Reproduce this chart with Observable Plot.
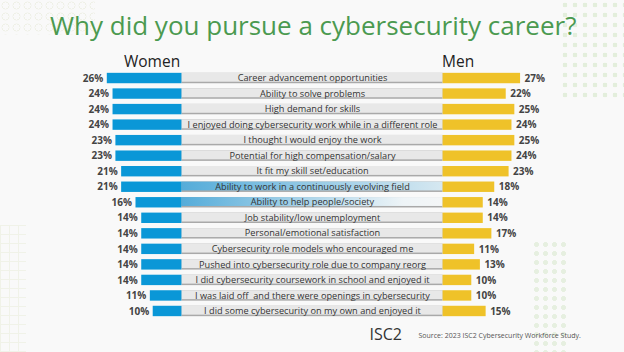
<!DOCTYPE html>
<html><head><meta charset="utf-8">
<script src="https://cdn.jsdelivr.net/npm/d3@7"></script>
<script src="https://cdn.jsdelivr.net/npm/@observablehq/plot@0.6"></script>
<style>
html,body{margin:0;padding:0;background:#f9f9f9;}
#wrap{width:624px;height:352px;position:relative;overflow:hidden;font-family:"Open Sans",sans-serif;}
.deco{position:absolute;pointer-events:none;}
#dotsTR{left:560px;top:0;width:64px;height:100px;background-image:radial-gradient(circle,#e3eedc 2.2px,transparent 2.6px);background-size:10px 10px;}
#dotsBR{left:532px;top:240px;width:36px;height:112px;background-image:radial-gradient(circle,#e6efe0 2.2px,transparent 2.6px);background-size:9px 9px;}
#circTL{left:0;top:0;width:95px;height:35px;background-image:radial-gradient(circle,transparent 3px,#eef0e6 3.2px,#eef0e6 3.8px,transparent 4.2px);background-size:11px 11px;}
#sqBL{left:0;top:225px;width:26px;height:127px;background-image:linear-gradient(#f0f2e8 1px,transparent 1px),linear-gradient(90deg,#f0f2e8 1px,transparent 1px);background-size:9px 9px;}
#title{position:relative;height:50px;line-height:50px;margin:0;padding-left:50px;font-size:26px;font-weight:400;color:#4b9a50;white-space:nowrap;}
#chart{position:relative;}
#chart svg{display:block;background:transparent;}
</style></head><body>
<div id="wrap">
<div class="deco" id="dotsTR"></div><div class="deco" id="dotsBR"></div><div class="deco" id="circTL"></div><div class="deco" id="sqBL"></div>
<div id="title">Why did you pursue a cybersecurity career?</div><div id="chart"></div></div>
<script>
const categories = [
  "Career advancement opportunities",
  "Ability to solve problems",
  "High demand for skills",
  "I enjoyed doing cybersecurity work while in a different role",
  "I thought I would enjoy the work",
  "Potential for high compensation/salary",
  "It fit my skill set/education",
  "Ability to work in a continuously evolving field",
  "Ability to help people/society",
  "Job stability/low unemployment",
  "Personal/emotional satisfaction",
  "Cybersecurity role models who encouraged me",
  "Pushed into cybersecurity role due to company reorg",
  "I did cybersecurity coursework in school and enjoyed it",
  "I was laid off  and there were openings in cybersecurity",
  "I did some cybersecurity on my own and enjoyed it"
];
const women = [26, 24, 24, 24, 23, 23, 21, 21, 16, 14, 14, 14, 14, 14, 11, 10];
const men   = [27, 22, 25, 24, 25, 24, 23, 18, 14, 14, 17, 11, 13, 10, 10, 15];
const highlighted = ["Ability to work in a continuously evolving field", "Ability to help people/society"];
const seriesNames = ["Women", "Men"];
const brand = "ISC2";
const sourceNote = "Source: 2023 ISC2 Cybersecurity Workforce Study.";

const rows = categories.map((c, i) => ({category: c, women: women[i], men: men[i], hi: highlighted.indexOf(c)}));
const gap = 45.5;       // half-width of the central label band, in % units
const half = 312 / 2.87; // visible half-domain

const chart = Plot.plot({
  width: 624,
  height: 302,
  marginLeft: 0, marginRight: 0, marginTop: 17.7, marginBottom: 30.7,
  style: {background: "transparent", fontFamily: "'Open Sans', sans-serif"},
  x: {domain: [-half, half], axis: null},
  y: {domain: categories, axis: null, padding: 0.33, round: false},
  marks: [
    Plot.barX(rows, {x1: () => -gap, x2: () => gap, y: "category", fill: "#a9a9a9"}),
    Plot.barX(rows, {x1: () => -gap, x2: () => gap, y: "category", insetBottom: 1.5,
      fill: d => d.hi === 0 ? "url(#hiA)" : d.hi === 1 ? "url(#hiB)" : "#e8e8e8"}),
    Plot.barX(rows, {x1: d => -gap - d.women, x2: () => -gap, y: "category", fill: "#0a97d7"}),
    Plot.barX(rows, {x1: () => gap, x2: d => gap + d.men, y: "category", fill: "#efc229"}),
    Plot.text(rows, {x: d => -gap - d.women, y: "category", text: d => d.women + "%", textAnchor: "end", dx: -4,
      fontSize: 10, fontWeight: "bold", fill: "#444"}),
    Plot.text(rows, {x: d => gap + d.men, y: "category", text: d => d.men + "%", textAnchor: "start", dx: 4,
      fontSize: 10, fontWeight: "bold", fill: "#444"}),
    Plot.text(rows, {x: () => 0, y: "category", text: "category", fontSize: 9.2, fill: "#333", dy: -0.3}),
    Plot.text([seriesNames[0]], {x: () => -(gap + 10.4), frameAnchor: "top", lineAnchor: "bottom", dy: -1.2,
      fontSize: 15.5, fill: "#222", text: d => d}),
    Plot.text([seriesNames[1]], {x: () => gap, frameAnchor: "top", lineAnchor: "bottom", dy: -1.2, dx: -1,
      textAnchor: "start", fontSize: 15.5, fill: "#222", text: d => d}),
    Plot.text([brand], {frameAnchor: "bottom-left", dx: 369, dy: 17.7, textAnchor: "start", lineAnchor: "bottom",
      fontSize: 16, fill: "#333", letterSpacing: "1.5px", text: d => d}),
    Plot.text([sourceNote], {frameAnchor: "bottom-left", dx: 418, dy: 16.2, textAnchor: "start", lineAnchor: "bottom",
      fontSize: 7, fill: "#555", text: d => d})
  ]
});

const defs = d3.select(chart).insert("defs", ":first-child");
const gA = defs.append("linearGradient").attr("id", "hiA");
gA.append("stop").attr("offset", "0%").attr("stop-color", "#55acd9");
gA.append("stop").attr("offset", "100%").attr("stop-color", "#d6e8f1");
const gB = defs.append("linearGradient").attr("id", "hiB");
gB.append("stop").attr("offset", "0%").attr("stop-color", "#55acd9");
gB.append("stop").attr("offset", "85%").attr("stop-color", "#eef4f7");
gB.append("stop").attr("offset", "100%").attr("stop-color", "#f4f6f7");

document.getElementById("chart").appendChild(chart);
</script>
</body></html>
